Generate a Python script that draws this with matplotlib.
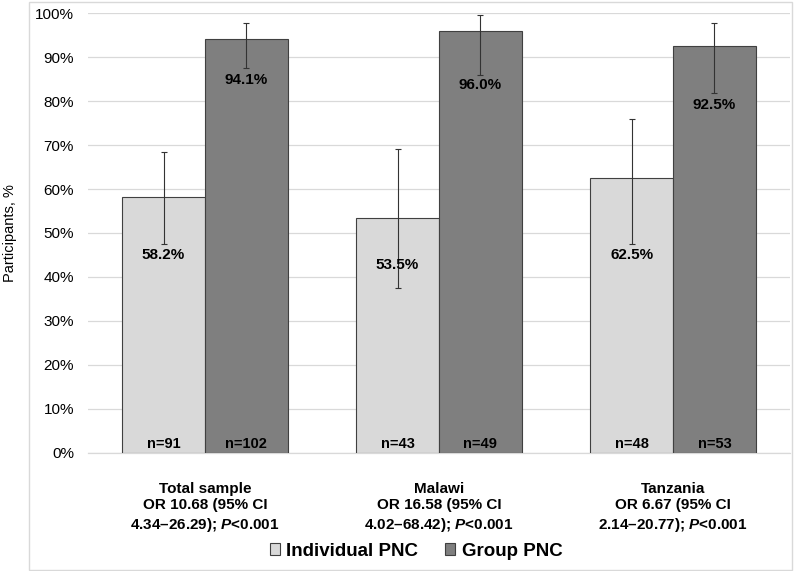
import numpy as np
import matplotlib
matplotlib.use("Agg")
import matplotlib.pyplot as plt
import matplotlib.ticker as mtick
from matplotlib.patches import Rectangle

plt.rcParams['font.family'] = ['Liberation Sans', 'DejaVu Sans']
plt.rcParams['mathtext.fontset'] = 'custom'
plt.rcParams['mathtext.it'] = 'Liberation Sans:italic:bold'
plt.rcParams['mathtext.rm'] = 'Liberation Sans:bold'

# Data
groups = ["Total sample", "Malawi", "Tanzania"]
odds_text = ["OR 10.68 (95% CI", "OR 16.58 (95% CI", "OR 6.67 (95% CI"]
ci_text = ["4.34\u201326.29); $P$<0.001", "4.02\u201368.42); $P$<0.001", "2.14\u201320.77); $P$<0.001"]

individual = [58.2, 53.5, 62.5]
individual_lo = [47.5, 37.6, 47.5]
individual_hi = [68.5, 69.0, 76.0]
n_individual = [91, 43, 48]

group_pnc = [94.1, 96.0, 92.5]
group_lo = [87.5, 86.0, 81.8]
group_hi = [97.8, 99.5, 97.8]
n_group = [102, 49, 53]

# where the value labels sit inside the bars (in % units)
ind_label_y = [45.0, 42.7, 45.0]
grp_label_y = [84.7, 83.6, 79.1]

light = "#d9d9d9"
dark = "#7f7f7f"
edge = "#404040"

fig = plt.figure(figsize=(8, 5.71), dpi=100)
ax = fig.add_axes([0.11, 0.2067, 0.8775, 0.7705])

x = np.arange(len(groups))
w = 0.354

ind = np.array(individual)
grp = np.array(group_pnc)
ind_err = [ind - np.array(individual_lo), np.array(individual_hi) - ind]
grp_err = [grp - np.array(group_lo), np.array(group_hi) - grp]

ekw = dict(ecolor="#333333", elinewidth=0.8, capsize=2.5, capthick=0.8)
ax.bar(x - w / 2, ind, w, color=light, edgecolor=edge, linewidth=0.8,
       yerr=ind_err, error_kw=ekw, label="Individual PNC", zorder=3)
ax.bar(x + w / 2, grp, w, color=dark, edgecolor=edge, linewidth=0.8,
       yerr=grp_err, error_kw=ekw, label="Group PNC", zorder=3)

for i in range(len(groups)):
    ax.text(x[i] - w / 2, ind_label_y[i], f"{individual[i]:.1f}%", ha="center", va="center",
            fontsize=11, fontweight="bold", zorder=4)
    ax.text(x[i] + w / 2, grp_label_y[i], f"{group_pnc[i]:.1f}%", ha="center", va="center",
            fontsize=11, fontweight="bold", zorder=4)
    ax.text(x[i] - w / 2, 2.0, f"n={n_individual[i]}", ha="center", va="center",
            fontsize=10.5, fontweight="bold", zorder=4)
    ax.text(x[i] + w / 2, 2.0, f"n={n_group[i]}", ha="center", va="center",
            fontsize=10.5, fontweight="bold", zorder=4)
    lbl = groups[i] + "\n" + odds_text[i] + "\n" + ci_text[i]
    ax.text(x[i], -0.065, lbl, transform=ax.get_xaxis_transform(), ha="center", va="top",
            fontsize=11, fontweight="bold", linespacing=1.25)

ax.set_xlim(-0.5, 2.5)
ax.set_ylim(0, 100)
ax.set_yticks(np.arange(0, 101, 10))
ax.yaxis.set_major_formatter(mtick.StrMethodFormatter('{x:.0f}%'))
ax.set_xticks([])
ax.tick_params(axis="y", length=0, pad=10, labelsize=11)
ax.grid(axis="y", color="#d9d9d9", linewidth=0.9, zorder=0)
for s in ["top", "right", "left"]:
    ax.spines[s].set_visible(False)
ax.spines["bottom"].set_color("#d9d9d9")
ax.spines["bottom"].set_linewidth(0.9)

fig.text(0.0125, 0.592, "Participants, %", rotation=90, ha="center", va="center", fontsize=10.5)

fig.legend(loc="center", bbox_to_anchor=(0.52, 0.035), ncol=2, frameon=False,
           prop=dict(size=13.5, weight="bold"), handlelength=0.55, handleheight=0.55,
           handletextpad=0.35, columnspacing=1.4)

# chart-area frame
fig.patches.append(Rectangle((29 / 800, 1 / 571), 763 / 800, 568 / 571, transform=fig.transFigure,
                             fill=False, edgecolor="#d9d9d9", linewidth=1.0))

fig.savefig("out.png", dpi=100)
